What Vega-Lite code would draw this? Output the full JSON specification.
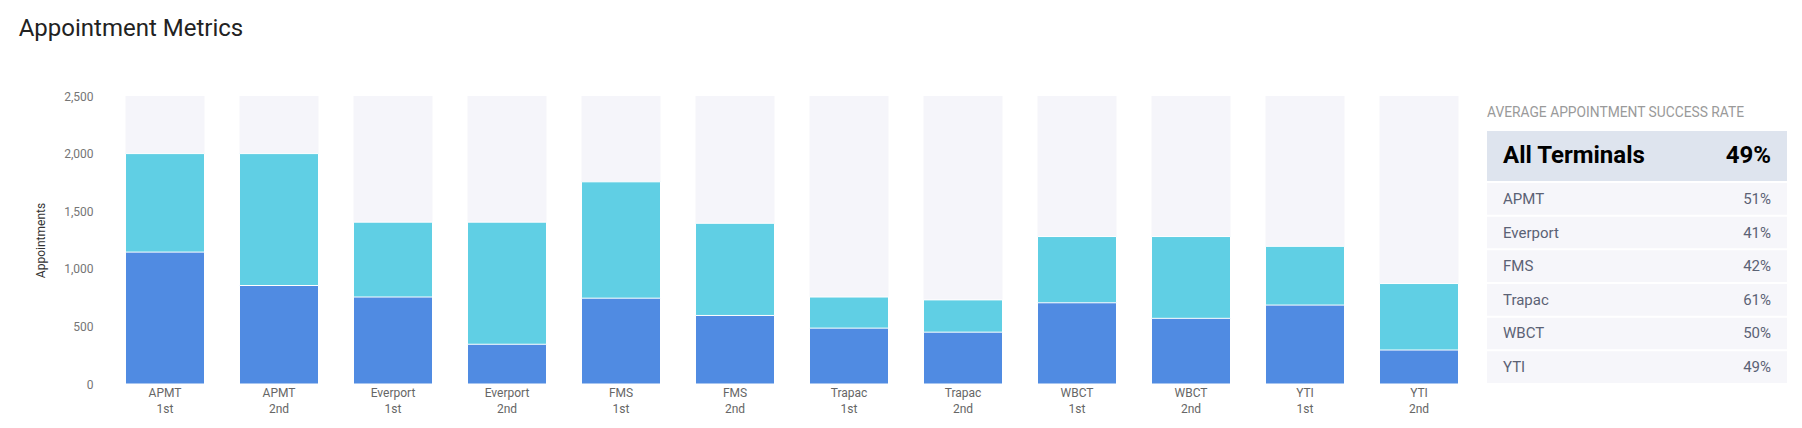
{
  "$schema": "https://vega.github.io/schema/vega-lite/v6.json",
  "padding": {"left": 18, "top": 17, "right": 5, "bottom": 5},
  "background": "white",
  "config": {"view": {"stroke": null}, "font": "Roboto"},
  "title": {"text": "Appointment Metrics", "anchor": "start", "fontSize": 24, "fontWeight": "normal", "color": "#222222", "offset": 49, "dx": -16},
  "datasets": {
    "bars": [
      {"terminal": "APMT", "shift": "1st", "bar": "APMT 1st", "successful": 1145, "total": 2000, "capacity": 2500},
      {"terminal": "APMT", "shift": "2nd", "bar": "APMT 2nd", "successful": 855, "total": 2000, "capacity": 2500},
      {"terminal": "Everport", "shift": "1st", "bar": "Everport 1st", "successful": 755, "total": 1405, "capacity": 2500},
      {"terminal": "Everport", "shift": "2nd", "bar": "Everport 2nd", "successful": 345, "total": 1405, "capacity": 2500},
      {"terminal": "FMS", "shift": "1st", "bar": "FMS 1st", "successful": 745, "total": 1755, "capacity": 2500},
      {"terminal": "FMS", "shift": "2nd", "bar": "FMS 2nd", "successful": 595, "total": 1395, "capacity": 2500},
      {"terminal": "Trapac", "shift": "1st", "bar": "Trapac 1st", "successful": 485, "total": 755, "capacity": 2500},
      {"terminal": "Trapac", "shift": "2nd", "bar": "Trapac 2nd", "successful": 450, "total": 730, "capacity": 2500},
      {"terminal": "WBCT", "shift": "1st", "bar": "WBCT 1st", "successful": 705, "total": 1280, "capacity": 2500},
      {"terminal": "WBCT", "shift": "2nd", "bar": "WBCT 2nd", "successful": 570, "total": 1280, "capacity": 2500},
      {"terminal": "YTI", "shift": "1st", "bar": "YTI 1st", "successful": 685, "total": 1195, "capacity": 2500},
      {"terminal": "YTI", "shift": "2nd", "bar": "YTI 2nd", "successful": 295, "total": 872, "capacity": 2500}
    ],
    "panelTitle": [{"title": "AVERAGE APPOINTMENT SUCCESS RATE"}],
    "overall": [{"terminal": "All Terminals", "rate": "49%"}],
    "terminals": [
      {"terminal": "APMT", "rate": "51%"},
      {"terminal": "Everport", "rate": "41%"},
      {"terminal": "FMS", "rate": "42%"},
      {"terminal": "Trapac", "rate": "61%"},
      {"terminal": "WBCT", "rate": "50%"},
      {"terminal": "YTI", "rate": "49%"}
    ]
  },
  "spacing": 11,
  "hconcat": [
    {
      "width": 1368,
      "height": 288,
      "data": {"name": "bars"},
      "encoding": {
        "x": {
          "field": "bar", "type": "nominal", "sort": null, "title": null,
          "scale": {"paddingInner": 0.307, "paddingOuter": 0.1535},
          "axis": {"domain": false, "ticks": false, "labelAngle": 0, "labelPadding": 3, "labelFontSize": 12, "labelColor": "#666666", "labelLineHeight": 16, "labelExpr": "split(datum.value, ' ')"}
        }
      },
      "layer": [
        {
          "mark": {"type": "bar", "color": "#f5f5fa"},
          "encoding": {
            "y": {
              "field": "capacity", "type": "quantitative", "title": "Appointments",
              "scale": {"domain": [0, 2500], "nice": false},
              "axis": {"values": [0, 500, 1000, 1500, 2000, 2500], "format": ",d", "grid": false, "domain": false, "ticks": false, "tickSize": 0, "labelPadding": 15, "labelFontSize": 12, "labelColor": "#757575", "titleFontSize": 12, "titleFontWeight": "normal", "titleColor": "#333333", "titlePadding": 16}
            }
          }
        },
        {
          "mark": {"type": "bar", "color": "#60cfe4", "stroke": "white", "strokeWidth": 1},
          "encoding": {"y": {"field": "total", "type": "quantitative"}}
        },
        {
          "mark": {"type": "bar", "color": "#508be2", "stroke": "white", "strokeWidth": 1},
          "encoding": {"y": {"field": "successful", "type": "quantitative"}}
        }
      ]
    },
    {
      "spacing": 2,
      "vconcat": [
        {
          "width": 300,
          "height": 33,
          "data": {"name": "panelTitle"},
          "mark": {"type": "text", "align": "left", "baseline": "middle", "dx": -150, "dy": 0, "fontSize": 13.8, "color": "#9a9a9a"},
          "encoding": {"text": {"field": "title"}}
        },
        {
          "width": 300,
          "height": 50,
          "data": {"name": "overall"},
          "layer": [
            {"mark": {"type": "rect", "color": "#dee4ee"}, "encoding": {}},
            {"mark": {"type": "text", "align": "left", "baseline": "middle", "dx": -134, "fontSize": 24, "fontWeight": "bold", "color": "#000000"}, "encoding": {"text": {"field": "terminal"}}},
            {"mark": {"type": "text", "align": "right", "baseline": "middle", "dx": 134, "fontSize": 24, "fontWeight": "bold", "color": "#000000"}, "encoding": {"text": {"field": "rate"}}}
          ]
        },
        {
          "width": 300,
          "height": 200,
          "data": {"name": "terminals"},
          "encoding": {
            "y": {"field": "terminal", "type": "nominal", "sort": null, "scale": {"paddingInner": 0.0588, "paddingOuter": 0}, "axis": null}
          },
          "layer": [
            {"mark": {"type": "rect", "color": "#f6f6fa"}},
            {"mark": {"type": "text", "align": "left", "baseline": "middle", "dx": -134, "fontSize": 15, "color": "#5b6275"}, "encoding": {"text": {"field": "terminal"}}},
            {"mark": {"type": "text", "align": "right", "baseline": "middle", "dx": 134, "fontSize": 15, "color": "#5b6275"}, "encoding": {"text": {"field": "rate"}}}
          ]
        }
      ]
    }
  ]
}
